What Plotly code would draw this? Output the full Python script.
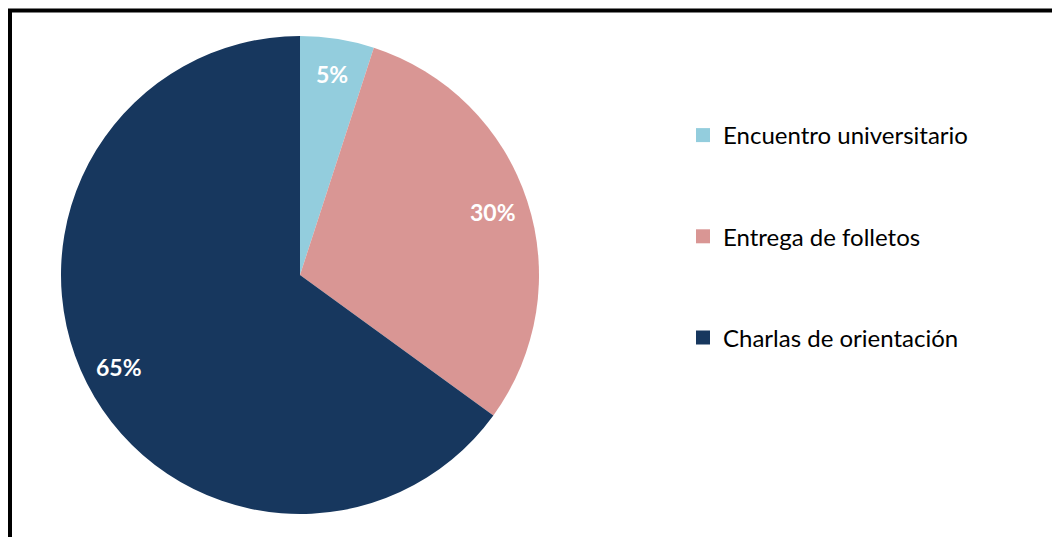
import math
import plotly.graph_objects as go

# Data
categories = ["Encuentro universitario", "Entrega de folletos", "Charlas de orientación"]
values = [5, 30, 65]
colors = ["#93CDDD", "#D99694", "#17375E"]

W, H = 1052, 537
# pie geometry in pixels (figure has zero margins, so paper == pixels)
cx_px, cy_px, r_px = 300, 275, 239

fig = go.Figure()

fig.add_trace(go.Pie(
    labels=categories,
    values=values,
    marker=dict(colors=colors, line=dict(color="white", width=0)),
    sort=False,
    direction="clockwise",
    rotation=0,
    textinfo="none",
    hoverinfo="label+percent",
    showlegend=False,
    domain=dict(x=[(cx_px - r_px) / W, (cx_px + r_px) / W],
                y=[1 - (cy_px + r_px) / H, 1 - (cy_px - r_px) / H]),
))

# Legend entries as square markers, one group each so they can be spaced apart
for name, col in zip(categories, colors):
    fig.add_trace(go.Scatter(
        x=[None], y=[None], mode="markers", name=name,
        legendgroup=name,
        marker=dict(symbol="square", size=14, color=col),
    ))

# Percentage labels placed along each slice bisector
total = sum(values)
cum = 0
annotations = []
for v in values:
    mid = (cum + v / 2) / total * 2 * math.pi
    cum += v
    rr = 0.85 * r_px
    x_px = cx_px + rr * math.sin(mid)
    y_px = cy_px - rr * math.cos(mid)
    annotations.append(dict(
        x=x_px / W, y=1 - y_px / H, xref="paper", yref="paper",
        text=f"<b>{round(v / total * 100)}%</b>", showarrow=False,
        font=dict(family="Lato", size=23, color="white"),
        xanchor="center", yanchor="middle",
    ))

# Frame lines along top and left edges
fx, fy = 10 / W, 1 - 10.5 / H
shapes = [
    dict(type="line", xref="paper", yref="paper", x0=fx, y0=0, x1=fx, y1=fy,
         line=dict(color="black", width=4)),
    dict(type="line", xref="paper", yref="paper", x0=fx - 2 / W, y0=fy, x1=1, y1=fy,
         line=dict(color="black", width=4)),
]

fig.update_layout(
    width=W, height=H,
    margin=dict(l=0, r=0, t=0, b=0),
    paper_bgcolor="white",
    plot_bgcolor="white",
    xaxis=dict(visible=False, domain=[0.6, 1]),
    yaxis=dict(visible=False),
    font=dict(family="Lato", color="#000000"),
    legend=dict(
        x=683 / W, y=1 - 113 / H, xanchor="left", yanchor="top",
        font=dict(family="Lato", size=24, color="#000000"),
        tracegroupgap=67,
        bgcolor="rgba(0,0,0,0)",
    ),
    annotations=annotations,
    shapes=shapes,
)

fig.write_html("out.html")
